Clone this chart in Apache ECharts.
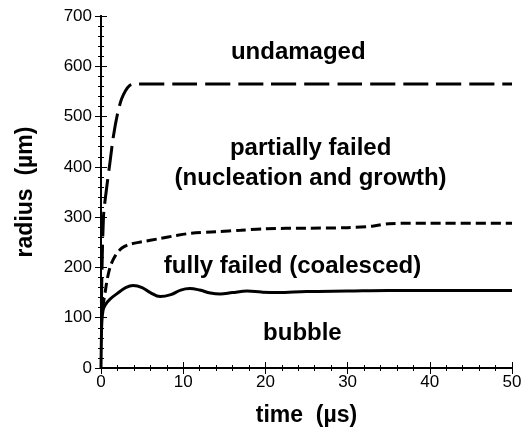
<!DOCTYPE html>
<html style="height: 100%">
<head>
  <meta charset="utf-8">
</head>
<body style="height: 100%; margin: 0; background: #fff">
  <div id="container" style="width: 525px; height: 435px"></div>
  <script type="text/javascript" src="https://fastly.jsdelivr.net/npm/echarts@6.0.0/dist/echarts.min.js"></script>
  <script type="text/javascript">
    // undamaged / partially failed boundary (long dashes)
    var undamagedT = [0.05, 0.3, 0.7, 1.1, 1.5, 2, 2.5, 3, 3.5, 4, 10, 20, 30, 40, 50];
    var undamagedR = [130, 300, 360, 410, 460, 505, 535, 552, 562, 565, 565, 565, 565, 565, 565];

    // partially failed / fully failed boundary (short dashes)
    var partialT = [0.2, 0.5, 0.8, 1.2, 1.8, 2.5, 3.5, 5, 7, 9, 11, 14, 17, 20, 25, 30, 33, 35, 40, 50];
    var partialR = [120, 150, 180, 205, 225, 238, 246, 251, 257, 263, 268, 271, 274, 277, 278, 279, 282, 287, 288, 288];

    // bubble radius (solid)
    var bubbleT = [0, 0.05, 0.1, 0.25, 0.5, 1.1, 2.3, 3, 3.9, 5, 6, 7.2, 8.5, 9.7, 10.8, 12, 13.3, 14.5, 16, 17.8, 19.5, 21.4, 25, 30, 35, 40, 45, 50];
    var bubbleR = [0, 60, 90, 115, 125, 137, 152, 160, 164, 160, 150, 142, 146, 155, 158, 155, 149, 147, 150, 153, 151, 150, 152, 153, 154, 154, 154, 154];

    // region labels, placed in data coordinates
    var regionText = ['undamaged', 'partially failed', '(nucleation and growth)', 'fully failed (coalesced)', 'bubble'];
    var regionT = [24, 25.5, 25.5, 23.3, 24.5];
    var regionR = [628, 436, 378, 203, 68];

    function pairs(xs, ys) {
      return xs.map(function (x, i) { return [x, ys[i]]; });
    }

    var chart = echarts.init(document.getElementById('container'), null, { renderer: 'canvas' });

    var tickFont = { color: '#000', fontFamily: 'Liberation Sans', fontSize: 17 };
    var titleFont = { color: '#000', fontFamily: 'Liberation Sans', fontWeight: 'bold', fontSize: 23 };
    var lineCol = '#000';

    var option = {
      animation: false,
      grid: { left: 101, right: 13, top: 16, bottom: 67 },
      xAxis: [
        {
          type: 'value', min: 0, max: 50, interval: 10,
          name: 'time  (\u00b5s)', nameLocation: 'middle', nameGap: 36,
          nameTextStyle: titleFont,
          axisLine: { onZero: false, lineStyle: { color: lineCol, width: 2 } },
          axisTick: { inside: true, length: 6, lineStyle: { color: lineCol } },
          minorTick: { show: true, splitNumber: 5, length: 3, lineStyle: { color: lineCol } },
          axisLabel: Object.assign({ margin: 6 }, tickFont),
          splitLine: { show: false }
        },
        {
          type: 'value', min: 0, max: 50, interval: 10, position: 'top',
          axisLine: { lineStyle: { color: lineCol, width: 2 } },
          axisTick: { inside: true, length: 6, lineStyle: { color: lineCol } },
          minorTick: { show: true, splitNumber: 5, length: 3, lineStyle: { color: lineCol } },
          axisLabel: { show: false },
          splitLine: { show: false }
        }
      ],
      yAxis: [
        {
          type: 'value', min: 0, max: 700, interval: 100,
          name: 'radius  (\u00b5m)', nameLocation: 'middle', nameGap: 64, nameRotate: 90,
          nameTextStyle: titleFont,
          axisLine: { onZero: false, lineStyle: { color: lineCol, width: 2 } },
          axisTick: { inside: true, length: 6, lineStyle: { color: lineCol } },
          minorTick: { show: true, splitNumber: 5, length: 3, lineStyle: { color: lineCol } },
          axisLabel: Object.assign({ margin: 9 }, tickFont),
          splitLine: { show: false }
        },
        {
          type: 'value', min: 0, max: 700, interval: 100, position: 'right',
          axisLine: { lineStyle: { color: lineCol, width: 2 } },
          axisTick: { inside: true, length: 6, lineStyle: { color: lineCol } },
          minorTick: { show: true, splitNumber: 5, length: 3, lineStyle: { color: lineCol } },
          axisLabel: { show: false },
          splitLine: { show: false }
        }
      ],
      series: [
        {
          name: 'undamaged boundary', type: 'line', smooth: 0.3, showSymbol: false,
          data: pairs(undamagedT, undamagedR),
          lineStyle: { color: '#000', width: 3, type: [25, 8] }
        },
        {
          name: 'partial boundary', type: 'line', smooth: 0.3, showSymbol: false,
          data: pairs(partialT, partialR),
          lineStyle: { color: '#000', width: 3, type: [10, 5] }
        },
        {
          name: 'bubble', type: 'line', smooth: 0.4, showSymbol: false,
          data: pairs(bubbleT, bubbleR),
          lineStyle: { color: '#000', width: 3 }
        },
        {
          name: 'labels', type: 'scatter', symbolSize: 0, silent: true,
          itemStyle: { opacity: 1 },
          data: regionT.map(function (t, i) { return [t, regionR[i], regionText[i]]; }),
          label: {
            show: true, position: 'inside', color: '#000', opacity: 1,
            fontFamily: 'Liberation Sans', fontWeight: 'bold', fontSize: 24,
            formatter: function (p) { return p.value[2]; }
          }
        }
      ]
    };

    chart.setOption(option);
    window.addEventListener('resize', chart.resize);
  </script>
</body>
</html>
